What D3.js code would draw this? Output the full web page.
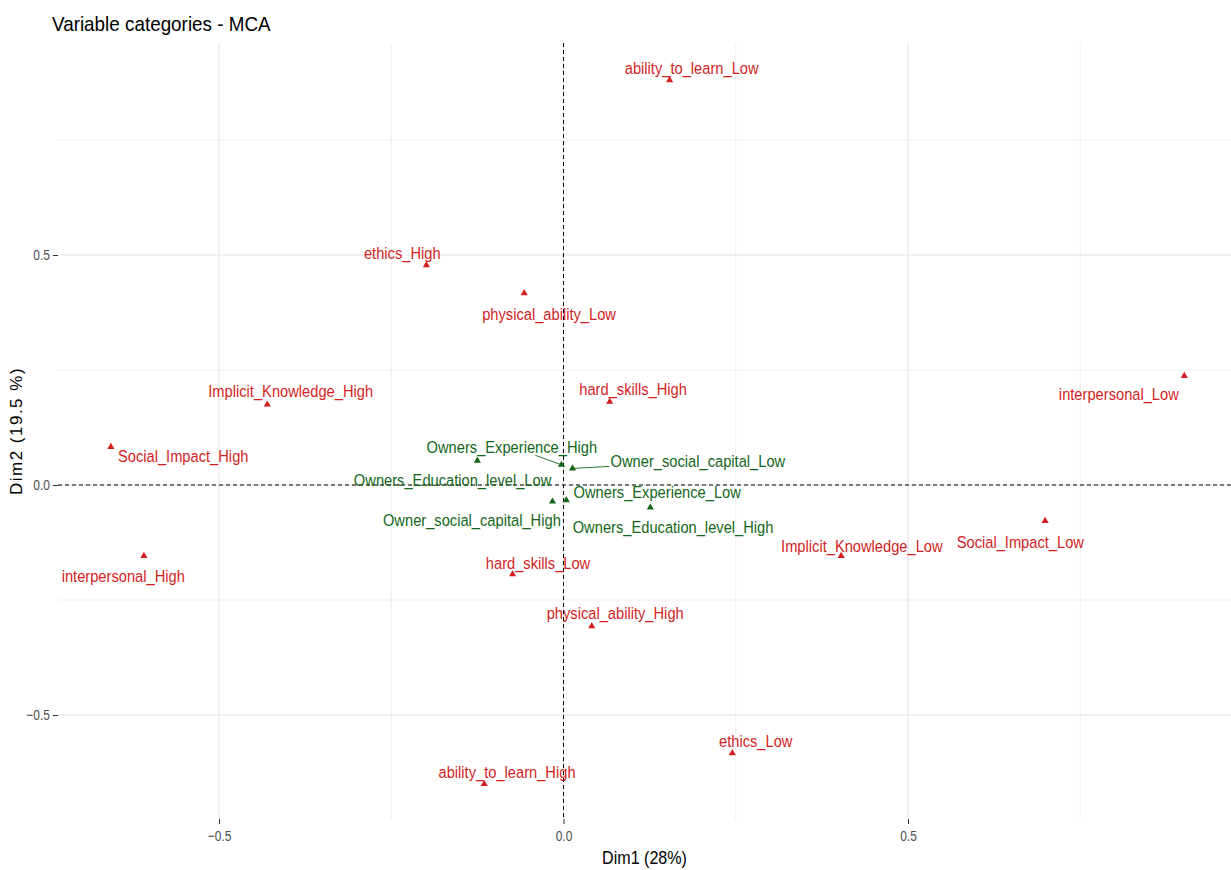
<!DOCTYPE html>
<html>
<head>
<meta charset="utf-8">
<script src="https://cdn.jsdelivr.net/npm/d3@7"></script>
<style>
  body { margin: 0; background: #fff; }
  text { font-family: "Liberation Sans Narrow", "Arial Narrow", "Liberation Sans", Arial, sans-serif; }
</style>
</head>
<body>
<div id="chart"></div>
<script>
// active variable categories (red)
const varNames = ["ability_to_learn_Low", "ethics_High", "physical_ability_Low", "Implicit_Knowledge_High",
  "hard_skills_High", "interpersonal_Low", "Social_Impact_High", "interpersonal_High", "hard_skills_Low",
  "physical_ability_High", "Implicit_Knowledge_Low", "Social_Impact_Low", "ethics_Low", "ability_to_learn_High"];
const varDim1 = [0.154, -0.199, -0.057, -0.430, 0.067, 0.901, -0.657, -0.609, -0.074, 0.041, 0.403, 0.699, 0.245, -0.115];
const varDim2 = [0.880, 0.478, 0.417, 0.175, 0.181, 0.237, 0.083, -0.154, -0.194, -0.307, -0.154, -0.078, -0.583, -0.650];
// repelled label positions (in dim units)
const varLabDim1 = [0.186, -0.234, -0.021, -0.396, 0.101, 0.806, -0.552, -0.639, -0.037, 0.075, 0.433, 0.663, 0.279, -0.082];
const varLabDim2 = [0.906, 0.504, 0.372, 0.203, 0.209, 0.198, 0.063, -0.199, -0.169, -0.279, -0.133, -0.124, -0.556, -0.625];

// supplementary qualitative categories (green)
const supNames = ["Owners_Experience_High", "Owners_Education_level_Low", "Owner_social_capital_Low",
  "Owners_Experience_Low", "Owner_social_capital_High", "Owners_Education_level_High"];
const supDim1 = [-0.003, -0.125, 0.013, 0.004, -0.016, 0.126];
const supDim2 = [0.044, 0.053, 0.036, -0.033, -0.036, -0.049];
const supLabDim1 = [-0.075, -0.161, 0.195, 0.136, -0.133, 0.159];
const supLabDim2 = [0.083, 0.011, 0.051, -0.015, -0.076, -0.091];

// labels pushed far enough to get a leader line
const leaderLines = ["Owners_Experience_High", "Owner_social_capital_Low"];

const ticks = [-0.5, 0, 0.5];
const minorTicks = [-0.25, 0.25, 0.75];
const xLimits = [-0.7337, 0.9688];
const yLimits = [-0.7261, 0.9609];

const W = 1231, H = 870;
const margin = { top: 43, right: 0, bottom: 51, left: 58 };
const width = W - margin.left - margin.right;
const height = H - margin.top - margin.bottom;
const squeeze = 0.89; // the source glyphs are condensed

const svg = d3.select("#chart").append("svg")
  .attr("width", W)
  .attr("height", H);

const g = svg.append("g")
  .attr("transform", `translate(${margin.left},${margin.top})`);

const x = d3.scaleLinear().domain(xLimits).range([0, width]);
const y = d3.scaleLinear().domain(yLimits).range([height, 0]);

// grid
g.selectAll(".gx-minor").data(minorTicks).join("line")
  .attr("x1", d => x(d)).attr("x2", d => x(d))
  .attr("y1", 0).attr("y2", height)
  .attr("stroke", "#ebebeb").attr("stroke-width", 0.8);
g.selectAll(".gy-minor").data(minorTicks).join("line")
  .attr("y1", d => y(d)).attr("y2", d => y(d))
  .attr("x1", 0).attr("x2", width)
  .attr("stroke", "#ebebeb").attr("stroke-width", 0.8);
g.selectAll(".gx-major").data(ticks).join("line")
  .attr("x1", d => x(d)).attr("x2", d => x(d))
  .attr("y1", 0).attr("y2", height)
  .attr("stroke", "#e4e4e4").attr("stroke-width", 1.1);
g.selectAll(".gy-major").data(ticks).join("line")
  .attr("y1", d => y(d)).attr("y2", d => y(d))
  .attr("x1", 0).attr("x2", width)
  .attr("stroke", "#e4e4e4").attr("stroke-width", 1.1);

// axes
const fmt = d3.format(".1f");
const xAxis = g.append("g")
  .attr("transform", `translate(0,${height})`)
  .call(d3.axisBottom(x).tickValues(ticks).tickFormat(fmt).tickSize(5).tickPadding(6));
const yAxis = g.append("g")
  .call(d3.axisLeft(y).tickValues(ticks).tickFormat(fmt).tickSize(5).tickPadding(3));
[xAxis, yAxis].forEach(a => {
  a.select(".domain").remove();
  a.selectAll(".tick line").attr("stroke", "#333").attr("stroke-width", 1);
  a.selectAll(".tick text").attr("fill", "#4d4d4d").style("font-size", "15px");
});
// condense tick labels around their anchor
xAxis.selectAll(".tick text").attr("transform", "scale(0.8,1)");
yAxis.selectAll(".tick text").each(function() {
  const t = d3.select(this);
  const ox = +t.attr("x");
  t.attr("x", 0).attr("transform", `translate(${ox},0) scale(0.8,1)`);
});

// reference lines
g.append("line")
  .attr("x1", 0).attr("x2", width).attr("y1", y(0)).attr("y2", y(0))
  .attr("stroke", "#000").attr("stroke-width", 1).attr("stroke-dasharray", "4,3");
g.append("line")
  .attr("x1", x(0)).attr("x2", x(0)).attr("y1", 0).attr("y2", height)
  .attr("stroke", "#000").attr("stroke-width", 1).attr("stroke-dasharray", "4,3");

// title + axis titles
svg.append("text")
  .attr("transform", "translate(52,31) scale(0.92,1)")
  .style("font-size", "20.5px")
  .attr("fill", "#000")
  .text("Variable categories - MCA");

svg.append("text")
  .attr("transform", `translate(${margin.left + width / 2},${H - 6}) scale(0.92,1)`)
  .attr("text-anchor", "middle")
  .style("font-size", "17.5px")
  .text("Dim1 (28%)");

svg.append("text")
  .attr("transform", `translate(22,${margin.top + height / 2}) rotate(-90)`)
  .attr("text-anchor", "middle")
  .style("font-size", "17px")
  .style("letter-spacing", "1.5px")
  .text("Dim2 (19.5 %)");

// points + labels
const groups = [
  { names: varNames, d1: varDim1, d2: varDim2, l1: varLabDim1, l2: varLabDim2, color: "#d21e1e" },
  { names: supNames, d1: supDim1, d2: supDim2, l1: supLabDim1, l2: supLabDim2, color: "#14661b" }
];

const tri = d3.symbol().type(d3.symbolTriangle).size(22);

groups.forEach(grp => {
  const rows = grp.names.map((n, i) => ({ name: n, d1: grp.d1[i], d2: grp.d2[i], l1: grp.l1[i], l2: grp.l2[i] }));

  const labels = g.selectAll(null).data(rows).join("text")
    .attr("transform", d => `translate(${x(d.l1)},${y(d.l2)}) scale(${squeeze},1)`)
    .attr("text-anchor", "middle")
    .attr("dominant-baseline", "central")
    .attr("fill", grp.color)
    .style("font-size", "16.5px")
    .text(d => d.name);

  // leader segment from point toward label centre, clipped at the label box
  labels.filter(d => leaderLines.includes(d.name)).each(function(d) {
    const b = this.getBBox();
    const hw = b.width * squeeze / 2 + 1, hh = b.height / 2 - 1;
    const cx = x(d.l1), cy = y(d.l2);
    const px = x(d.d1), py = y(d.d2);
    const dx = px - cx, dy = py - cy;
    const t = Math.min(dx ? hw / Math.abs(dx) : Infinity, dy ? hh / Math.abs(dy) : Infinity);
    g.append("line")
      .attr("x1", px).attr("y1", py)
      .attr("x2", cx + dx * t).attr("y2", cy + dy * t)
      .attr("stroke", grp.color).attr("stroke-width", 0.9);
  });

  g.selectAll(null).data(rows).join("path")
    .attr("d", tri)
    .attr("transform", d => `translate(${x(d.d1)},${y(d.d2)})`)
    .attr("fill", grp.color);
});
</script>
</body>
</html>
